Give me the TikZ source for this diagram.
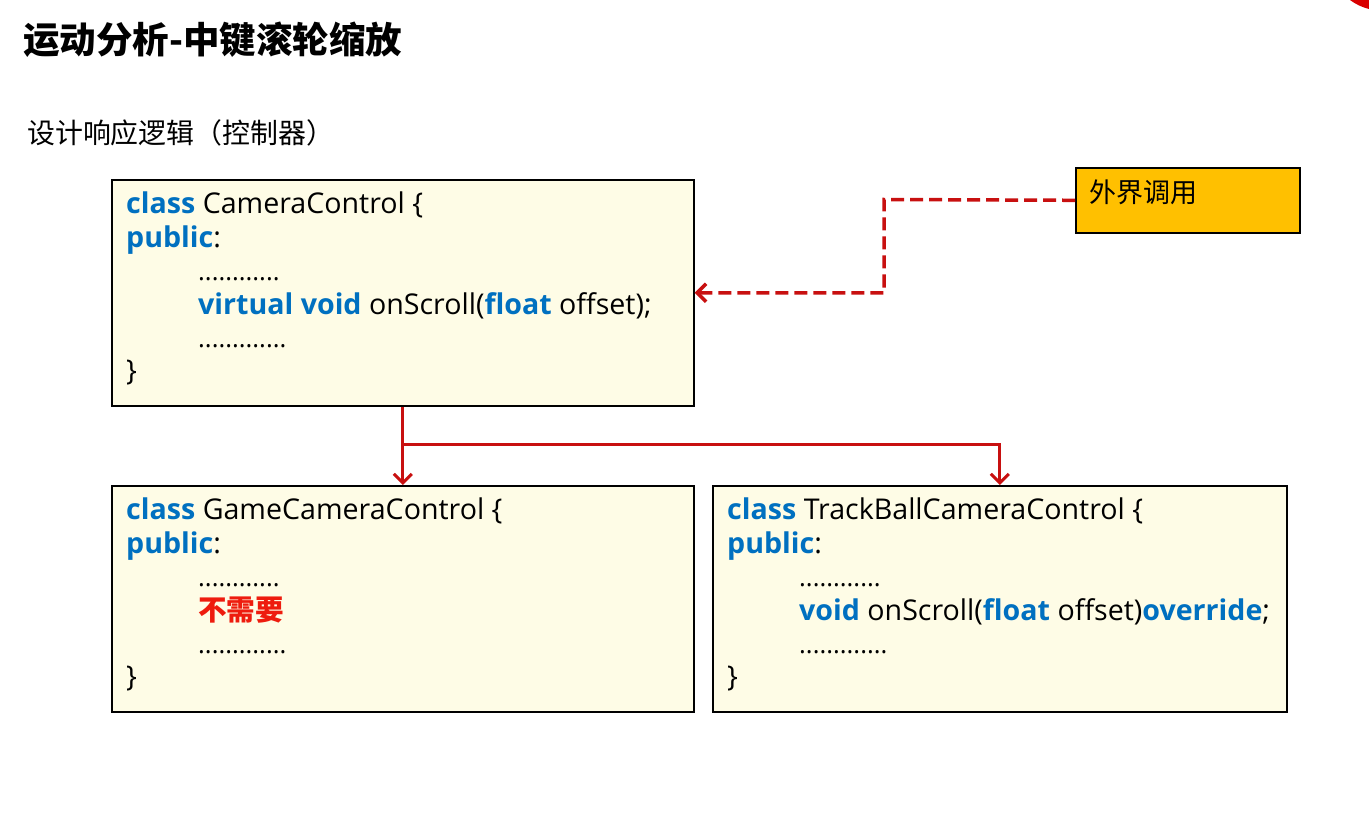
\documentclass[tikz,border=0pt]{standalone}
\usepackage{fontspec}
\setmainfont{Open Sans}
\newfontfamily\cjk{Noto Sans CJK SC}
\usetikzlibrary{arrows.meta}
\definecolor{codefill}{HTML}{FEFCE6}
\definecolor{kwblue}{HTML}{0070C0}
\definecolor{linkred}{HTML}{C81010}
\definecolor{callfill}{HTML}{FFC000}
\definecolor{noteRed}{HTML}{EE1C0E}
\newcommand{\kw}[1]{{\color{kwblue}\bfseries #1}}
\newcommand{\ind}{\hspace*{72pt}}
\newcommand{\dotsrow}[1]{{\fontsize{25.5}{33.4}\selectfont #1}}
\tikzset{
  codebox/.style={draw=black,line width=1.6pt,fill=codefill,anchor=north west,
    minimum width=582pt,minimum height=226pt},
  codetext/.style={anchor=north west,inner sep=0,align=left,
    font=\fontsize{28.6}{33.4}\selectfont},
  callbox/.style={draw=black,line width=1.6pt,fill=callfill,anchor=north west,
    minimum width=224pt,minimum height=65pt},
  inherit/.style={draw=linkred,line width=3pt,-{Straight Barb[length=9pt,width=18pt]}},
  callarrow/.style={draw=linkred,line width=3.5pt,dash pattern=on 13pt off 6pt,
    -{Straight Barb[length=9pt,width=18pt]}}
}
\begin{document}
\begin{tikzpicture}[x=1pt,y=-1pt]
  \useasboundingbox (0,0) rectangle (1369,816);
  \fill[red!85!black] (1350,0) -- (1369,0) -- (1369,9) to[bend left=10] cycle;
  % headings
  \node[anchor=west,inner sep=0] (title) at (23,40) {\cjk\bfseries\fontsize{36.5}{40}\selectfont 运动分析-中键滚轮缩放};
  \node[anchor=west,inner sep=0] (subtitle) at (27,133) {\cjk\fontsize{27.9}{30}\selectfont 设计响应逻辑（控制器）};
  % classes
  \node[codebox] (camctl) at (111,179) {};
  \node[codetext] (camctltxt) at (126,192) {\kw{class} CameraControl \{\\
    \kw{public}:\\
    \ind\dotsrow{............}\\
    \ind\kw{virtual void} onScroll(\kw{float} offset);\\
    \ind\dotsrow{.............}\\
    \}};
  \node[codebox] (gamectl) at (111,485) {};
  \node[codetext] (gamectltxt) at (126,498) {\kw{class} GameCameraControl \{\\
    \kw{public}:\\
    \ind\dotsrow{............}\\
    \ind{\cjk\bfseries\color{noteRed}不需要}\\
    \ind\dotsrow{.............}\\
    \}};
  \node[codebox,minimum width=574pt] (trackctl) at (712,485) {};
  \node[codetext] (trackctltxt) at (727,498) {\kw{class} TrackBallCameraControl \{\\
    \kw{public}:\\
    \ind\dotsrow{............}\\
    \ind\kw{void} onScroll(\kw{float} offset)\kw{override};\\
    \ind\dotsrow{.............}\\
    \}};
  \node[callbox] (outside) at (1075,167) {};
  \node[anchor=west,inner sep=0] (outsidetxt) at (1089,192) {\cjk\fontsize{27}{28}\selectfont 外界调用};
  % links
  \coordinate (turn) at (884,199.5);
  \coordinate (split) at (402,444);
  \draw[callarrow] (outside.west) -- (turn) |- (camctl.east);
  \draw[inherit] (camctl.south) -- (gamectl.north);
  \draw[inherit] (split) -| (trackctl.north);
\end{tikzpicture}
\end{document}
